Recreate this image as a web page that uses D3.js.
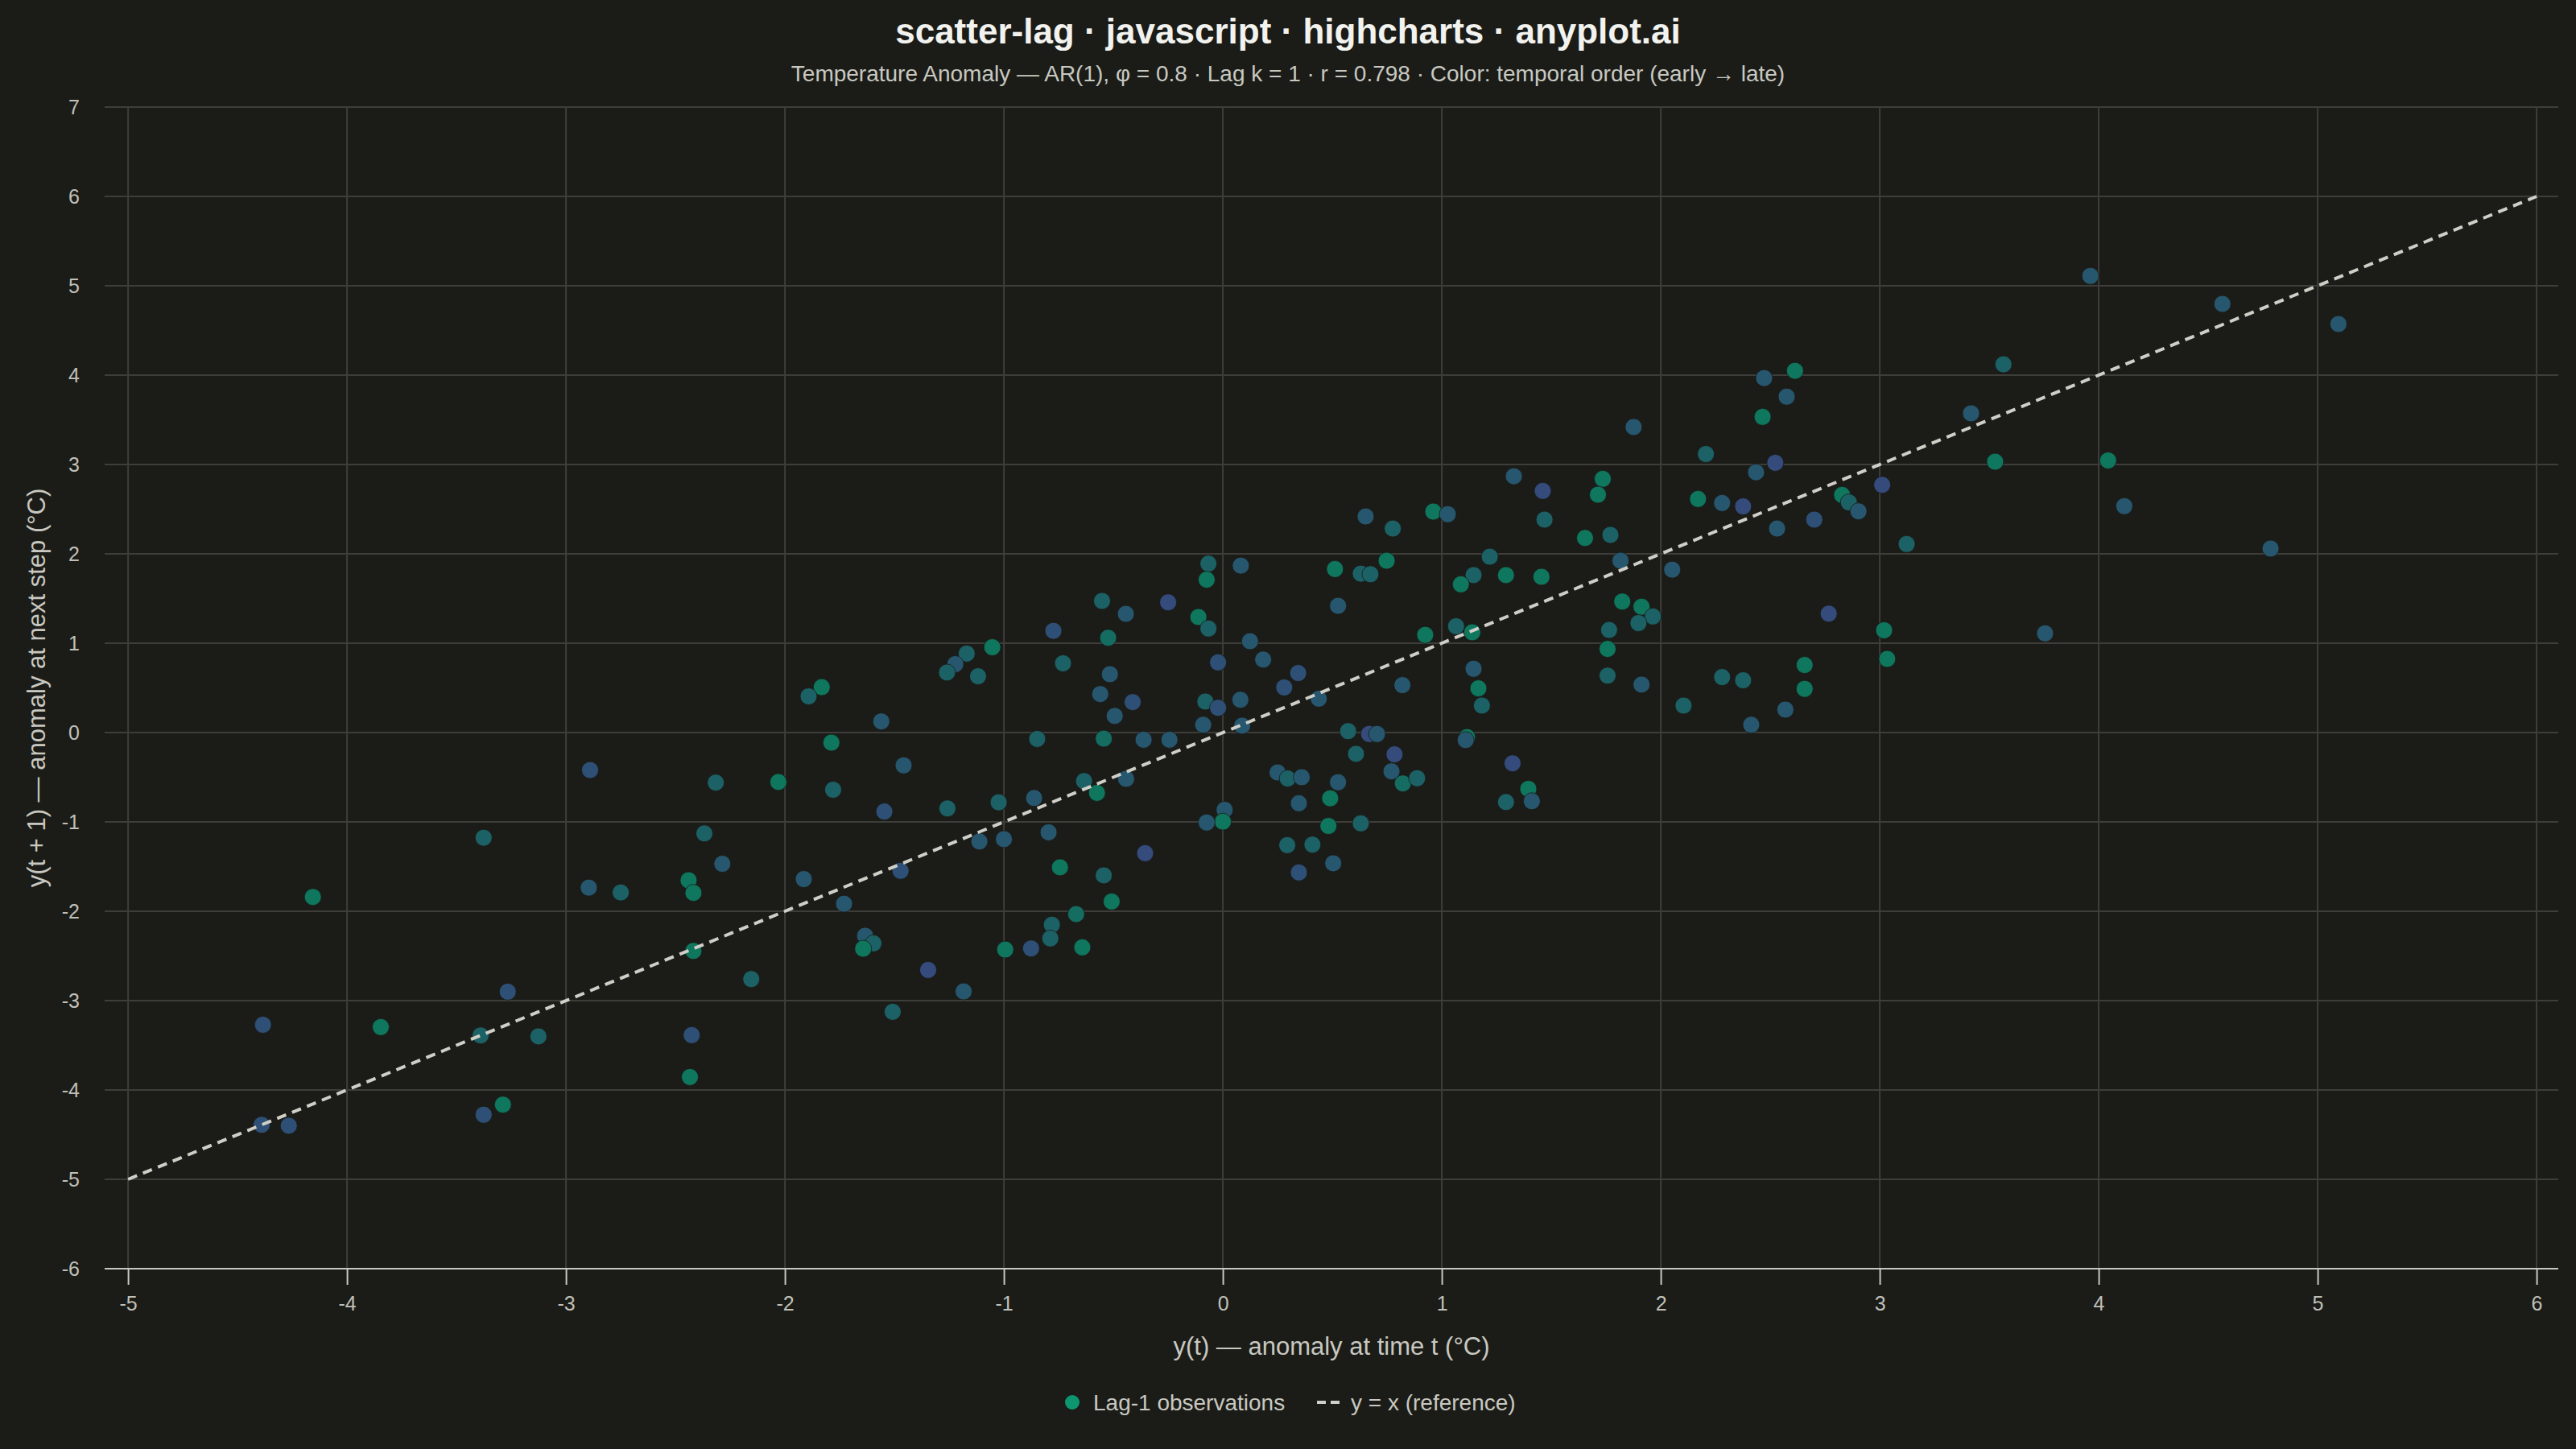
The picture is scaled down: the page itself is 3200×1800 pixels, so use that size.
<!DOCTYPE html>
<html lang="en">
<head>
    <meta charset="UTF-8">
    <title>scatter-lag · javascript · highcharts · anyplot.ai</title>
    <script src="https://d3js.org/d3.v7.min.js"></script>
    <style>
        body {
            margin: 0;
            padding: 0;
            background-color: #1b1c18;
            font-family: "Liberation Sans", Arial, sans-serif;
        }
        svg text {
            font-family: "Liberation Sans", Arial, sans-serif;
        }
    </style>
</head>
<body>
    <svg id="chart" width="3200" height="1800"></svg>

    <script>
        // lag-1 pairs: x = y(t), y = y(t + 1)
        const lagX = [
            // lower left
            -2.89, -2.316, -3.376, -4.156, -2.368, -2.286, -2.896, -2.75, -2.44, -2.418,
            -2.418, -2.154, -3.266, -4.384, -3.846, -3.39, -3.126, -2.426, -2.434, -3.288,
            -3.376, -4.39, -4.266,
            // centre left
            -0.066, 0.082, -0.074, -0.552, -0.443, -0.25, -0.112, -0.066, -0.774, -0.524,
            0.124, -1.053, -1.17, -1.222, -1.26, -1.118, -0.73, -0.022, 0.184, -0.516,
            0.344, 0.28, -1.832, -1.892, -0.56, -0.412, -0.08, -0.022, 0.08, -1.56,
            -0.494, -0.09, 0.088, -1.788, -0.848, -0.544, -0.362, -0.244, -1.458, -2.03,
            -1.78, -0.634, -0.442, -0.575, 0.25, 0.296, 0.36, -1.546, -1.258, -1.024,
            -0.862, 0.008, 0.0, -0.074, 0.347, -1.112, -1.0, -0.796, -0.355, 0.294,
            0.347, -0.744, -0.544, -1.914, -1.472, -1.73, -0.508, -0.67, -0.781,
            // centre bottom
            -0.788, -0.642, -0.876, -0.994, -1.634, -1.596, -1.643, -1.346, -1.184, -1.508,
            // centre right
            2.206, 2.523, 2.435, 1.329, 1.461, 1.735, 1.713, 2.17, 2.28, 2.376,
            2.701, 2.531, 0.652, 0.776, 0.961, 1.027, 1.469, 1.654, 1.77, 1.219,
            1.816, 2.052, 0.512, 0.63, 0.674, 0.748, 1.145, 1.087, 1.293, 1.455,
            0.526, 1.824, 1.912, 1.964, 1.898, 1.764, 1.757, 0.924, 1.065, 1.139,
            2.767, 1.145, 1.167, 1.183, 0.82, 0.438, 1.757, 1.912, 2.104, 2.28,
            2.376, 2.657, 2.657, 2.569, 2.413, 0.572, 0.668, 0.704, 1.115, 1.109,
            0.608, 0.784, 0.526, 0.77, 0.822, 0.887, 0.49, 0.482, 0.63, 0.409,
            0.504, 1.323, 1.395, 1.411, 1.293,
            // upper centre
            2.613, 2.472, 2.575, 2.465, 1.876,
            // upper right
            3.962, 4.565, 5.095, 3.565, 3.417, 3.527, 4.043, 3.011, 2.828, 2.859,
            2.903, 4.117, 3.123, 4.785, 3.02, 3.034, 3.755
        ];

        const lagY = [
            -0.42, -0.56, -1.177, -1.84, -1.129, -1.469, -1.736, -1.79, -1.653, -1.794,
            -2.444, -2.759, -2.9, -3.27, -3.296, -3.39, -3.4, -3.386, -3.855, -4.164,
            -4.277, -4.39, -4.4,

            1.891, 1.868, 1.711, 1.473, 1.328, 1.457, 1.293, 1.164, 1.138, 1.061,
            1.022, 0.955, 0.884, 0.765, 0.672, 0.63, 0.775, 0.785, 0.817, 0.653,
            0.666, 0.505, 0.508, 0.405, 0.431, 0.341, 0.347, 0.277, 0.367, 0.125,
            0.186, 0.087, 0.077, -0.113, -0.071, -0.068, -0.08, -0.08, -0.367, -0.553,
            -0.64, -0.543, -0.518, -0.675, -0.447, -0.514, -0.5, -0.884, -0.849, -0.781,
            -0.733, -0.865, -0.997, -1.007, -0.791, -1.219, -1.193, -1.116, -1.35, -1.26,
            -1.566, -1.508, -1.598, -1.64, -1.547, -1.916, -1.891, -2.032, -2.151,

            -2.304, -2.404, -2.416, -2.429, -2.274, -2.359, -2.419, -2.657, -2.897, -3.125,

            3.117, 3.019, 2.913, 2.868, 2.704, 2.839, 2.662, 2.614, 2.569, 2.531,
            2.383, 2.283, 2.418, 2.283, 2.473, 2.444, 2.383, 2.177, 2.212, 1.968,
            1.923, 1.823, 1.83, 1.778, 1.772, 1.923, 1.762, 1.659, 1.762, 1.743,
            1.418, 1.466, 1.408, 1.299, 1.225, 1.148, 0.936, 1.093, 1.19, 1.122,
            1.331, 0.714, 0.495, 0.302, 0.531, 0.379, 0.637, 0.537, 0.302, 0.621,
            0.585, 0.756, 0.489, 0.257, 0.087, 0.016, -0.016, -0.016, -0.051, -0.084,
            -0.238, -0.244, -0.556, -0.434, -0.569, -0.511, -0.736, -1.045, -1.016, -1.254,
            -1.463, -0.344, -0.63, -0.768, -0.778,

            4.048, 3.967, 3.759, 3.533, 3.419,

            5.11, 4.797, 4.572, 4.121, 3.572, 3.031, 3.045, 2.772, 2.659, 2.576,
            2.476, 2.534, 2.11, 2.059, 1.145, 0.824, 1.11
        ];

        // position in time (0 = early, 1 = late), estimated from each dot's colour
        const timeOrder = [
            0.85, 0.45, 0.45, 0.05, 0.45, 0.68, 0.68, 0.45, 0.05, 0.05,
            0.05, 0.45, 0.85, 0.85, 0.05, 0.45, 0.45, 0.85, 0.05, 0.05,
            0.85, 0.85, 0.85,

            0.45, 0.68, 0.05, 0.45, 0.68, 0.97, 0.05, 0.45, 0.85, 0.25,
            0.68, 0.05, 0.45, 0.68, 0.45, 0.45, 0.45, 0.85, 0.68, 0.68,
            0.85, 0.85, 0.05, 0.45, 0.68, 0.85, 0.45, 0.85, 0.68, 0.68,
            0.68, 0.68, 0.68, 0.05, 0.45, 0.25, 0.68, 0.68, 0.68, 0.05,
            0.45, 0.45, 0.68, 0.05, 0.68, 0.45, 0.68, 0.85, 0.45, 0.45,
            0.68, 0.68, 0.05, 0.68, 0.68, 0.68, 0.68, 0.68, 0.97, 0.45,
            0.85, 0.05, 0.45, 0.68, 0.85, 0.68, 0.05, 0.25, 0.45,

            0.45, 0.05, 0.85, 0.05, 0.68, 0.45, 0.05, 0.97, 0.68, 0.45,

            0.45, 0.97, 0.68, 0.68, 0.97, 0.05, 0.05, 0.05, 0.68, 0.97,
            0.85, 0.68, 0.68, 0.45, 0.05, 0.68, 0.45, 0.05, 0.45, 0.45,
            0.68, 0.68, 0.05, 0.45, 0.45, 0.05, 0.45, 0.05, 0.05, 0.05,
            0.68, 0.05, 0.05, 0.45, 0.45, 0.45, 0.05, 0.05, 0.45, 0.05,
            0.97, 0.68, 0.05, 0.45, 0.68, 0.68, 0.45, 0.68, 0.45, 0.45,
            0.45, 0.05, 0.05, 0.68, 0.68, 0.45, 0.97, 0.68, 0.05, 0.68,
            0.45, 0.97, 0.68, 0.68, 0.25, 0.45, 0.05, 0.05, 0.45, 0.45,
            0.68, 0.97, 0.05, 0.68, 0.45,

            0.05, 0.68, 0.68, 0.05, 0.68,

            0.68, 0.68, 0.68, 0.45, 0.68, 0.05, 0.05, 0.97, 0.05, 0.45,
            0.68, 0.68, 0.45, 0.68, 0.05, 0.05, 0.68
        ];

        const xTicks = [-5, -4, -3, -2, -1, 0, 1, 2, 3, 4, 5, 6];
        const yTicks = [-6, -5, -4, -3, -2, -1, 0, 1, 2, 3, 4, 5, 6, 7];
        const refLine = [-5, 6];

        const titleText = "scatter-lag · javascript · highcharts · anyplot.ai";
        const subtitleText = "Temperature Anomaly — AR(1), φ = 0.8 · Lag k = 1 · r = 0.798 · Color: temporal order (early → late)";
        const xTitle = "y(t) — anomaly at time t (°C)";
        const yTitle = "y(t + 1) — anomaly at next step (°C)";
        const legendLabels = ["Lag-1 observations", "y = x (reference)"];

        const points = lagX.map((x, i) => ({ x: x, y: lagY[i], t: timeOrder[i] }));

        // plot box
        const plot = { left: 130, right: 3178, top: 133, bottom: 1576 };
        const svg = d3.select("#chart");

        const xScale = d3.scaleLinear().domain([-5.107, 6.099]).range([plot.left, plot.right]);
        const yScale = d3.scaleLinear().domain([-6, 7]).range([plot.bottom, plot.top]);
        const colorScale = d3.scaleLinear()
            .domain([0, 0.5, 1])
            .range(["#0c7a5c", "#1e5e66", "#364a7d"])
            .interpolate(d3.interpolateRgb);

        // plain hyphen for negatives, like the original labels
        const tickLabel = d => String(d);

        // titles
        svg.append("text")
            .attr("x", 1600).attr("y", 54)
            .attr("text-anchor", "middle")
            .style("font-size", "44px").style("font-weight", "bold")
            .attr("fill", "#f2f2ee")
            .text(titleText);

        svg.append("text")
            .attr("x", 1600).attr("y", 101)
            .attr("text-anchor", "middle")
            .style("font-size", "28px")
            .attr("fill", "#c8c8c0")
            .text(subtitleText);

        // grid
        const grid = svg.append("g");
        grid.selectAll(".hgrid")
            .data(yTicks)
            .join("line")
            .attr("class", "hgrid")
            .attr("x1", plot.left).attr("x2", plot.right)
            .attr("y1", d => yScale(d)).attr("y2", d => yScale(d))
            .attr("stroke", "#3d3e3a").attr("stroke-width", 2);

        grid.selectAll(".vgrid")
            .data(xTicks)
            .join("line")
            .attr("class", "vgrid")
            .attr("x1", d => xScale(d)).attr("x2", d => xScale(d))
            .attr("y1", plot.top).attr("y2", plot.bottom)
            .attr("stroke", "#3d3e3a").attr("stroke-width", 2);

        // x axis
        const xAxis = d3.axisBottom(xScale)
            .tickValues(xTicks)
            .tickSize(20)
            .tickPadding(14)
            .tickFormat(tickLabel);

        const xAxisGroup = svg.append("g")
            .attr("transform", `translate(0,${plot.bottom})`)
            .call(xAxis);
        xAxisGroup.select(".domain")
            .attr("d", `M${plot.left},0H${plot.right}`)
            .attr("stroke", "#c8c8c0").attr("stroke-width", 2);
        xAxisGroup.selectAll(".tick line").attr("stroke", "#c8c8c0").attr("stroke-width", 2);
        xAxisGroup.selectAll(".tick text")
            .attr("fill", "#c0c0b8")
            .style("font-size", "25px")
            .style("font-family", "'Liberation Sans', Arial, sans-serif");

        // y axis (labels only)
        const yAxis = d3.axisLeft(yScale)
            .tickValues(yTicks)
            .tickSize(0)
            .tickPadding(31)
            .tickFormat(tickLabel);

        const yAxisGroup = svg.append("g")
            .attr("transform", `translate(${plot.left},0)`)
            .call(yAxis);
        yAxisGroup.select(".domain").remove();
        yAxisGroup.selectAll(".tick text")
            .attr("fill", "#c0c0b8")
            .style("font-size", "25px")
            .style("font-family", "'Liberation Sans', Arial, sans-serif");

        // axis titles
        svg.append("text")
            .attr("x", (plot.left + plot.right) / 2).attr("y", 1683)
            .attr("text-anchor", "middle")
            .style("font-size", "31px")
            .attr("fill", "#c8c8c0")
            .text(xTitle);

        svg.append("text")
            .attr("transform", `translate(56,${(plot.top + plot.bottom) / 2}) rotate(-90)`)
            .attr("text-anchor", "middle")
            .style("font-size", "31px")
            .attr("fill", "#c8c8c0")
            .text(yTitle);

        // points
        svg.append("g")
            .selectAll("circle")
            .data(points)
            .join("circle")
            .attr("cx", d => xScale(d.x))
            .attr("cy", d => yScale(d.y))
            .attr("r", 10.5)
            .attr("fill", d => colorScale(d.t))
            .attr("stroke", "#1b1c18")
            .attr("stroke-width", 0.8);

        // y = x reference line
        svg.append("line")
            .attr("x1", xScale(refLine[0])).attr("y1", yScale(refLine[0]))
            .attr("x2", xScale(refLine[1])).attr("y2", yScale(refLine[1]))
            .attr("stroke", "#cfcfc8")
            .attr("stroke-width", 4)
            .attr("stroke-dasharray", "12,8");

        // legend
        const legend = svg.append("g").attr("transform", "translate(0,1742)");
        legend.append("circle")
            .attr("cx", 1332).attr("cy", 0).attr("r", 9)
            .attr("fill", "#0e9670");
        legend.append("text")
            .attr("x", 1358).attr("y", 10)
            .style("font-size", "28px")
            .attr("fill", "#c8c8c0")
            .text(legendLabels[0]);
        legend.append("line")
            .attr("x1", 1636).attr("x2", 1664)
            .attr("y1", 0).attr("y2", 0)
            .attr("stroke", "#cfcfc8")
            .attr("stroke-width", 4)
            .attr("stroke-dasharray", "11,6");
        legend.append("text")
            .attr("x", 1678).attr("y", 10)
            .style("font-size", "28px")
            .attr("fill", "#c8c8c0")
            .text(legendLabels[1]);
    </script>
</body>
</html>
